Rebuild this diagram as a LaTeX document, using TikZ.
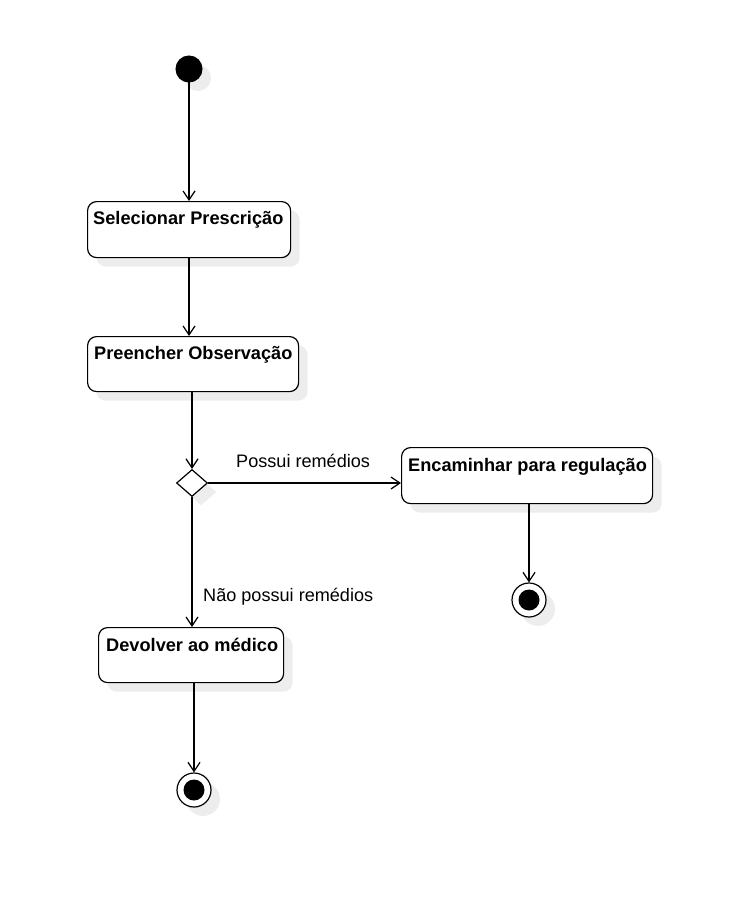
\documentclass[tikz,border=0pt]{standalone}
\usepackage{fontspec}
\setmainfont{Liberation Sans}
\usetikzlibrary{arrows.meta,shapes.geometric,shadows}
\begin{document}
\begin{tikzpicture}[x=1pt,y=-1pt,
  shd/.style={general shadow={fill=black!7, shadow xshift=9pt, shadow yshift=-9pt}},
  act/.style={draw, line width=1.2pt, rounded corners=9pt, fill=white, shd, inner sep=0pt, anchor=north west},
  ttl/.style={font=\fontsize{18.2}{21}\bfseries\selectfont, inner sep=0pt, anchor=base west},
  lbl/.style={font=\fontsize{18.1}{21}\selectfont, inner sep=0pt, anchor=base west},
  flow/.style={draw, line width=1.2pt, -{Straight Barb[length=9pt,width=12pt,line width=1.2pt]}},
  startn/.style={circle, fill=black, draw, line width=1pt, minimum size=26pt, inner sep=0pt, shd},
  endo/.style={circle, draw, line width=1.2pt, fill=white, minimum size=34pt, inner sep=0pt, shd},
  endi/.style={circle, fill=black, minimum size=21pt, inner sep=0pt},
  dec/.style={diamond, draw, line width=1.2pt, fill=white, minimum width=31pt, minimum height=27pt, inner sep=0pt, shd}
]
\useasboundingbox (0,0) rectangle (738,912);

\node[startn] (s) at (189,69) {};

\node[act, minimum width=203pt, minimum height=56pt] (b1) at (87,201) {};
\node[ttl] (t1) at (93,224) {Selecionar Prescrição};

\node[act, minimum width=211pt, minimum height=55pt] (b2) at (87,336) {};
\node[ttl] (t2) at (94,359) {Preencher Observação};

\node[dec] (d) at (192,483) {};

\node[act, minimum width=251pt, minimum height=56pt] (b3) at (401,447) {};
\node[ttl] (t3) at (408,471) {Encaminhar para regulação};

\node[act, minimum width=185pt, minimum height=55pt] (b4) at (98,627) {};
\node[ttl] (t4) at (106,651) {Devolver ao médico};

\node[endo] (f1) at (529,600) {};
\node[endi] (f1i) at (f1) {};

\node[endo] (f2) at (194,790) {};
\node[endi] (f2i) at (f2) {};

\coordinate (c1) at (189,201);
\coordinate (c2a) at (189,257);
\coordinate (c2) at (189,336);
\coordinate (c3) at (192,391);
\coordinate (c4) at (192,627);
\coordinate (c5) at (529,503);
\coordinate (c6) at (194,682);

\draw[flow] (s) -- (c1);
\draw[flow] (c2a) -- (c2);
\draw[flow] (c3) -- (d.north);
\draw[flow] (d.east) -- (b3.west |- d.east);
\draw[flow] (d.south) -- (c4);
\draw[flow] (c5) -- (f1.north);
\draw[flow] (c6) -- (f2.north);

\node[lbl] (l1) at (236,467) {Possui remédios};
\node[lbl] (l2) at (203,601) {Não possui remédios};
\end{tikzpicture}
\end{document}
